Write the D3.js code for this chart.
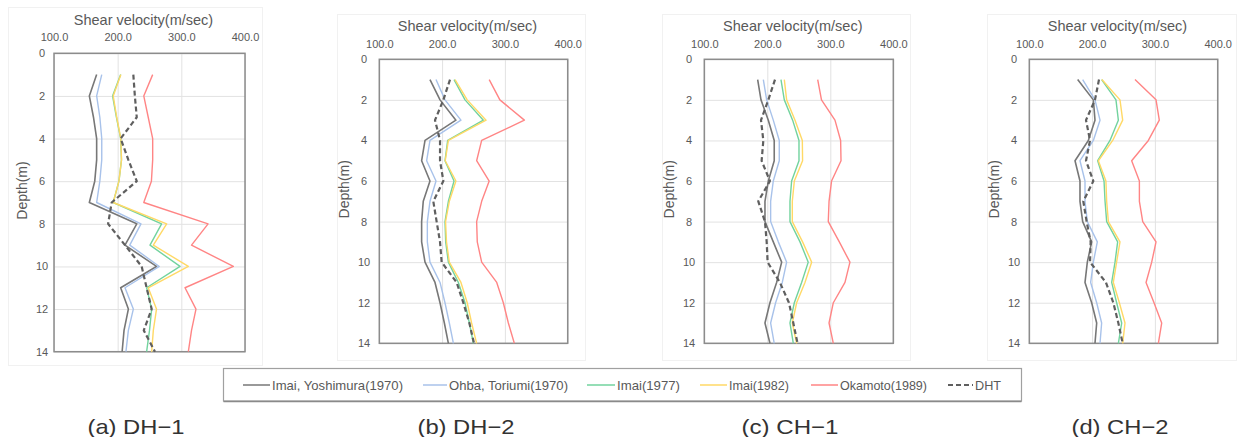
<!DOCTYPE html>
<html>
<head>
<meta charset="utf-8">
<script src="https://cdn.jsdelivr.net/npm/d3@7"></script>
<style>
  body { margin: 0; background: #fff; }
  text { font-family: "Liberation Sans", Arial, sans-serif; }
</style>
</head>
<body>
<svg id="chart" width="1239" height="437"></svg>
<script>
// depth of each reading (m)
const depths = [1, 2, 3, 4, 5, 6, 7, 8, 9, 10, 11, 12, 13, 14];
const xTicks = [100, 200, 300, 400];
const yTicks = [0, 2, 4, 6, 8, 10, 12, 14];

const seriesNames = ["Imai, Yoshimura(1970)", "Ohba, Toriumi(1970)", "Imai(1977)", "Imai(1982)", "Okamoto(1989)", "DHT"];
const panelCaptions = ["(a) DH\u22121", "(b) DH\u22122", "(c) CH\u22121", "(d) CH\u22122"];

// (a) DH-1
const dh1Yoshimura = [167, 155.5, 162, 167, 167, 164, 155.5, 230, 211.5, 261, 204.7, 216.8, 210, 207];
const dh1Ohba      = [175, 167, 172, 175, 175, 172, 167, 236.6, 219, 265.4, 211.5, 224.6, 216.8, 213];
const dh1Imai77    = [204.7, 192, 198, 204.7, 206, 202, 193, 269, 250.8, 298, 245.5, 253.4, 250, 245.5];
const dh1Imai82    = [205, 193, 198.5, 205, 206, 202, 193, 277, 256, 311, 248, 261, 256, 253.4];
const dh1Okamoto   = [255, 241, 248, 255, 255, 253, 241, 342, 316, 381.7, 305.8, 323, 316, 311];
const dh1DHT       = [224.6, 227, 230, 204.7, 216.8, 230, 190.6, 185, 211.5, 237.7, 245.5, 253.4, 241, 258.6];

// (b) DH-2
const dh2Yoshimura = [180.7, 196.7, 222, 172.8, 167.4, 180.7, 170, 167.4, 167.4, 172.8, 188.7, 196.7, 203.6, 210];
const dh2Ohba      = [190.3, 204.6, 230, 180.7, 175.4, 190.3, 180.7, 176.5, 176.5, 180.7, 196.7, 204.6, 211.5, 218];
const dh2Imai77    = [219, 236.5, 265.7, 208.9, 204.6, 219, 210, 204.6, 205.7, 210, 225.9, 236.5, 243.4, 249.8];
const dh2Imai82    = [220.6, 240, 270, 210, 205, 222, 211.5, 205.5, 207, 211.5, 230, 240, 247, 255];
const dh2Okamoto   = [275, 292, 331, 263, 255, 275, 263, 255, 256, 263, 287, 297.5, 305.5, 315];
const dh2DHT       = [212.6, 202, 188.7, 196.7, 196.7, 202, 186, 191.3, 196.7, 199.3, 223.2, 233.8, 243.4, 250.8];

// (c) CH-1
const ch1Yoshimura = [184.7, 190, 201.6, 211, 211, 201.6, 196.3, 196.3, 209.5, 222.8, 214.8, 204.2, 196.3, 204.2];
const ch1Ohba      = [193.7, 199, 209.5, 219, 219, 209.5, 205.3, 205.3, 217.5, 230.7, 223.8, 213.2, 205.3, 211];
const ch1Imai77    = [221.7, 227, 240.2, 250.3, 250.3, 238.6, 236, 236, 251.9, 265, 254.5, 242.9, 236, 241.3];
const ch1Imai82    = [227, 230.7, 244, 255.6, 256, 242.9, 239.7, 239.7, 256, 270.4, 259.8, 246.6, 239.7, 246.6];
const ch1Okamoto   = [280, 286, 307.4, 316.4, 317, 302, 298, 296.8, 314.3, 331.2, 323.3, 304.8, 298, 304.8];
const ch1DHT       = [212.2, 201.6, 190, 193.7, 191, 204.2, 185.7, 196.3, 199, 200.5, 220, 234.4, 241.3, 248];

// (d) CH-2
const ch2Yoshimura = [177, 202, 204.6, 194, 172.8, 180.7, 180.7, 185, 199.3, 192.4, 188.7, 199.3, 207.3, 204.6];
const ch2Ohba      = [185, 204.6, 212.6, 202, 180.7, 188.7, 188.7, 192.4, 208.3, 202, 197.7, 207.3, 215.2, 212.6];
const ch2Imai77    = [215.2, 238, 241.8, 228.5, 208.9, 219, 220.6, 223.2, 240.7, 236.5, 231.2, 239.1, 247.1, 241.8];
const ch2Imai82    = [215.5, 244.4, 248.7, 232.8, 210, 222, 223.2, 225.9, 244.4, 239, 233.8, 243.4, 252.4, 248.7];
const ch2Okamoto   = [268.3, 301.8, 307, 289.6, 263, 275.3, 275.3, 280.6, 301.8, 294.9, 285.9, 298.6, 310.8, 305.5];
const ch2DHT       = [211, 204.6, 190.3, 196.7, 190.3, 202, 186, 191.3, 197.7, 196.7, 222, 233.8, 241.8, 248.7];

const panelData = [
  [dh1Yoshimura, dh1Ohba, dh1Imai77, dh1Imai82, dh1Okamoto, dh1DHT],
  [dh2Yoshimura, dh2Ohba, dh2Imai77, dh2Imai82, dh2Okamoto, dh2DHT],
  [ch1Yoshimura, ch1Ohba, ch1Imai77, ch1Imai82, ch1Okamoto, ch1DHT],
  [ch2Yoshimura, ch2Ohba, ch2Imai77, ch2Imai82, ch2Okamoto, ch2DHT]
];

// styling per series
const colors = ["#777777", "#a8c2ea", "#72d39e", "#ffd966", "#ff8585", "#5f5f5f"];
const widths = [1.6, 1.4, 1.4, 1.4, 1.4, 2.2];

// panel layout (plot box and text rows)
const panels = [
  { left: 54, right: 245, top: 53.3, bottom: 351.7, titleY: 24.5, tickY: 41, depthX: 42, frame: [8, 7, 262, 365], capX: 136 },
  { left: 379.3, right: 567.7, top: 59.3, bottom: 343.3, titleY: 31, tickY: 47.5, depthX: 364, frame: [337, 14, 585, 360], capX: 466 },
  { left: 704.3, right: 893.3, top: 59.3, bottom: 343.3, titleY: 31, tickY: 47.5, depthX: 689, frame: [662, 14, 910, 360], capX: 790 },
  { left: 1029.3, right: 1217.7, top: 59.3, bottom: 343.3, titleY: 31, tickY: 47.5, depthX: 1014, frame: [987, 14, 1236, 360], capX: 1120 }
];

const svg = d3.select("#chart");

panels.forEach((p, pi) => {
  const g = svg.append("g");

  // faint chart-area frame
  g.append("rect")
    .attr("x", p.frame[0] + 0.5).attr("y", p.frame[1] + 0.5)
    .attr("width", p.frame[2] - p.frame[0]).attr("height", p.frame[3] - p.frame[1])
    .attr("fill", "none").attr("stroke", "#f1f1f1");

  const x = d3.scaleLinear().domain([100, 400]).range([p.left, p.right]);
  const y = d3.scaleLinear().domain([0, 14]).range([p.top, p.bottom]);

  // grid
  g.append("g")
    .attr("transform", `translate(0,${p.top})`)
    .call(d3.axisTop(x).tickValues(xTicks).tickSize(-(p.bottom - p.top)).tickFormat(""))
    .call(a => a.select(".domain").remove())
    .selectAll("line").attr("stroke", "#e2e2e2");
  g.append("g")
    .attr("transform", `translate(${p.left},0)`)
    .call(d3.axisLeft(y).tickValues(yTicks).tickSize(-(p.right - p.left)).tickFormat(""))
    .call(a => a.select(".domain").remove())
    .selectAll("line").attr("stroke", "#e2e2e2");

  // tick labels
  const xAx = g.append("g")
    .attr("transform", `translate(0,${p.tickY})`)
    .call(d3.axisTop(x).tickValues(xTicks).tickSize(0).tickPadding(0).tickFormat(d3.format(".1f")));
  xAx.select(".domain").remove();
  xAx.selectAll("text").attr("fill", "#595959").attr("font-size", "11px")
    .attr("font-family", "Liberation Sans, Arial, sans-serif").attr("dy", 0);

  const yAx = g.append("g")
    .attr("transform", `translate(${p.depthX},0)`)
    .call(d3.axisLeft(y).tickValues(yTicks).tickSize(0).tickPadding(0));
  yAx.select(".domain").remove();
  yAx.selectAll("text").attr("fill", "#595959").attr("font-size", "11px")
    .attr("font-family", "Liberation Sans, Arial, sans-serif")
    .attr("text-anchor", "middle").attr("x", 0);

  // plot border
  g.append("rect")
    .attr("x", p.left).attr("y", p.top)
    .attr("width", p.right - p.left).attr("height", p.bottom - p.top)
    .attr("fill", "none").attr("stroke", "#8c8c8c").attr("stroke-width", 1.5);

  // axis titles
  g.append("text")
    .attr("x", (p.left + p.right) / 2 - 6).attr("y", p.titleY)
    .attr("text-anchor", "middle").attr("fill", "#595959")
    .attr("font-size", "14.5px")
    .text("Shear velocity(m/sec)");
  g.append("text")
    .attr("transform", `translate(${p.depthX - 15},${(p.top + p.bottom) / 2 - 12}) rotate(-90)`)
    .attr("text-anchor", "middle").attr("fill", "#595959")
    .attr("font-size", "14px")
    .text("Depth(m)");

  // series lines
  const line = d3.line().x(d => x(d[0])).y(d => y(d[1]));
  panelData[pi].forEach((vals, si) => {
    g.append("path")
      .datum(vals.map((v, i) => [v, depths[i]]))
      .attr("d", line)
      .attr("fill", "none")
      .attr("stroke", colors[si])
      .attr("stroke-width", widths[si])
      .attr("stroke-linejoin", "round")
      .attr("stroke-dasharray", si === 5 ? "5,3" : null);
  });

  // caption
  svg.append("text")
    .attr("x", p.capX).attr("y", 434)
    .attr("text-anchor", "middle")
    .attr("font-family", "'Noto Sans CJK KR', 'Noto Sans', sans-serif")
    .attr("font-size", "21px").attr("fill", "#333")
    .attr("textLength", 97).attr("lengthAdjust", "spacingAndGlyphs")
    .text(panelCaptions[pi]);
});

// legend
const legend = svg.append("g");
legend.append("rect")
  .attr("x", 223.5).attr("y", 368.5).attr("width", 798).attr("height", 32.5)
  .attr("fill", "#fff").attr("stroke", "#a0a0a0").attr("stroke-width", 1.2);
legend.append("line")
  .attr("x1", 223.5).attr("x2", 1021.5).attr("y1", 401.5).attr("y2", 401.5)
  .attr("stroke", "#8a8a8a").attr("stroke-width", 1.5);
const legendLineX = [243, 423, 587, 700, 811, 948];
const legendLineW = [27, 24, 28, 27, 27, 25];
const legendTextW = [131, 119, 63, 60, 87, 26];
seriesNames.forEach((name, i) => {
  legend.append("line")
    .attr("x1", legendLineX[i]).attr("x2", legendLineX[i] + legendLineW[i])
    .attr("y1", 385).attr("y2", 385)
    .attr("stroke", colors[i]).attr("stroke-width", i === 5 ? 2 : 1.5)
    .attr("stroke-dasharray", i === 5 ? "5,3" : null);
  legend.append("text")
    .attr("x", legendLineX[i] + legendLineW[i] + 2).attr("y", 390)
    .attr("fill", "#595959").attr("font-size", "13.5px")
    .attr("textLength", legendTextW[i]).attr("lengthAdjust", "spacingAndGlyphs")
    .text(name);
});
</script>
</body>
</html>
